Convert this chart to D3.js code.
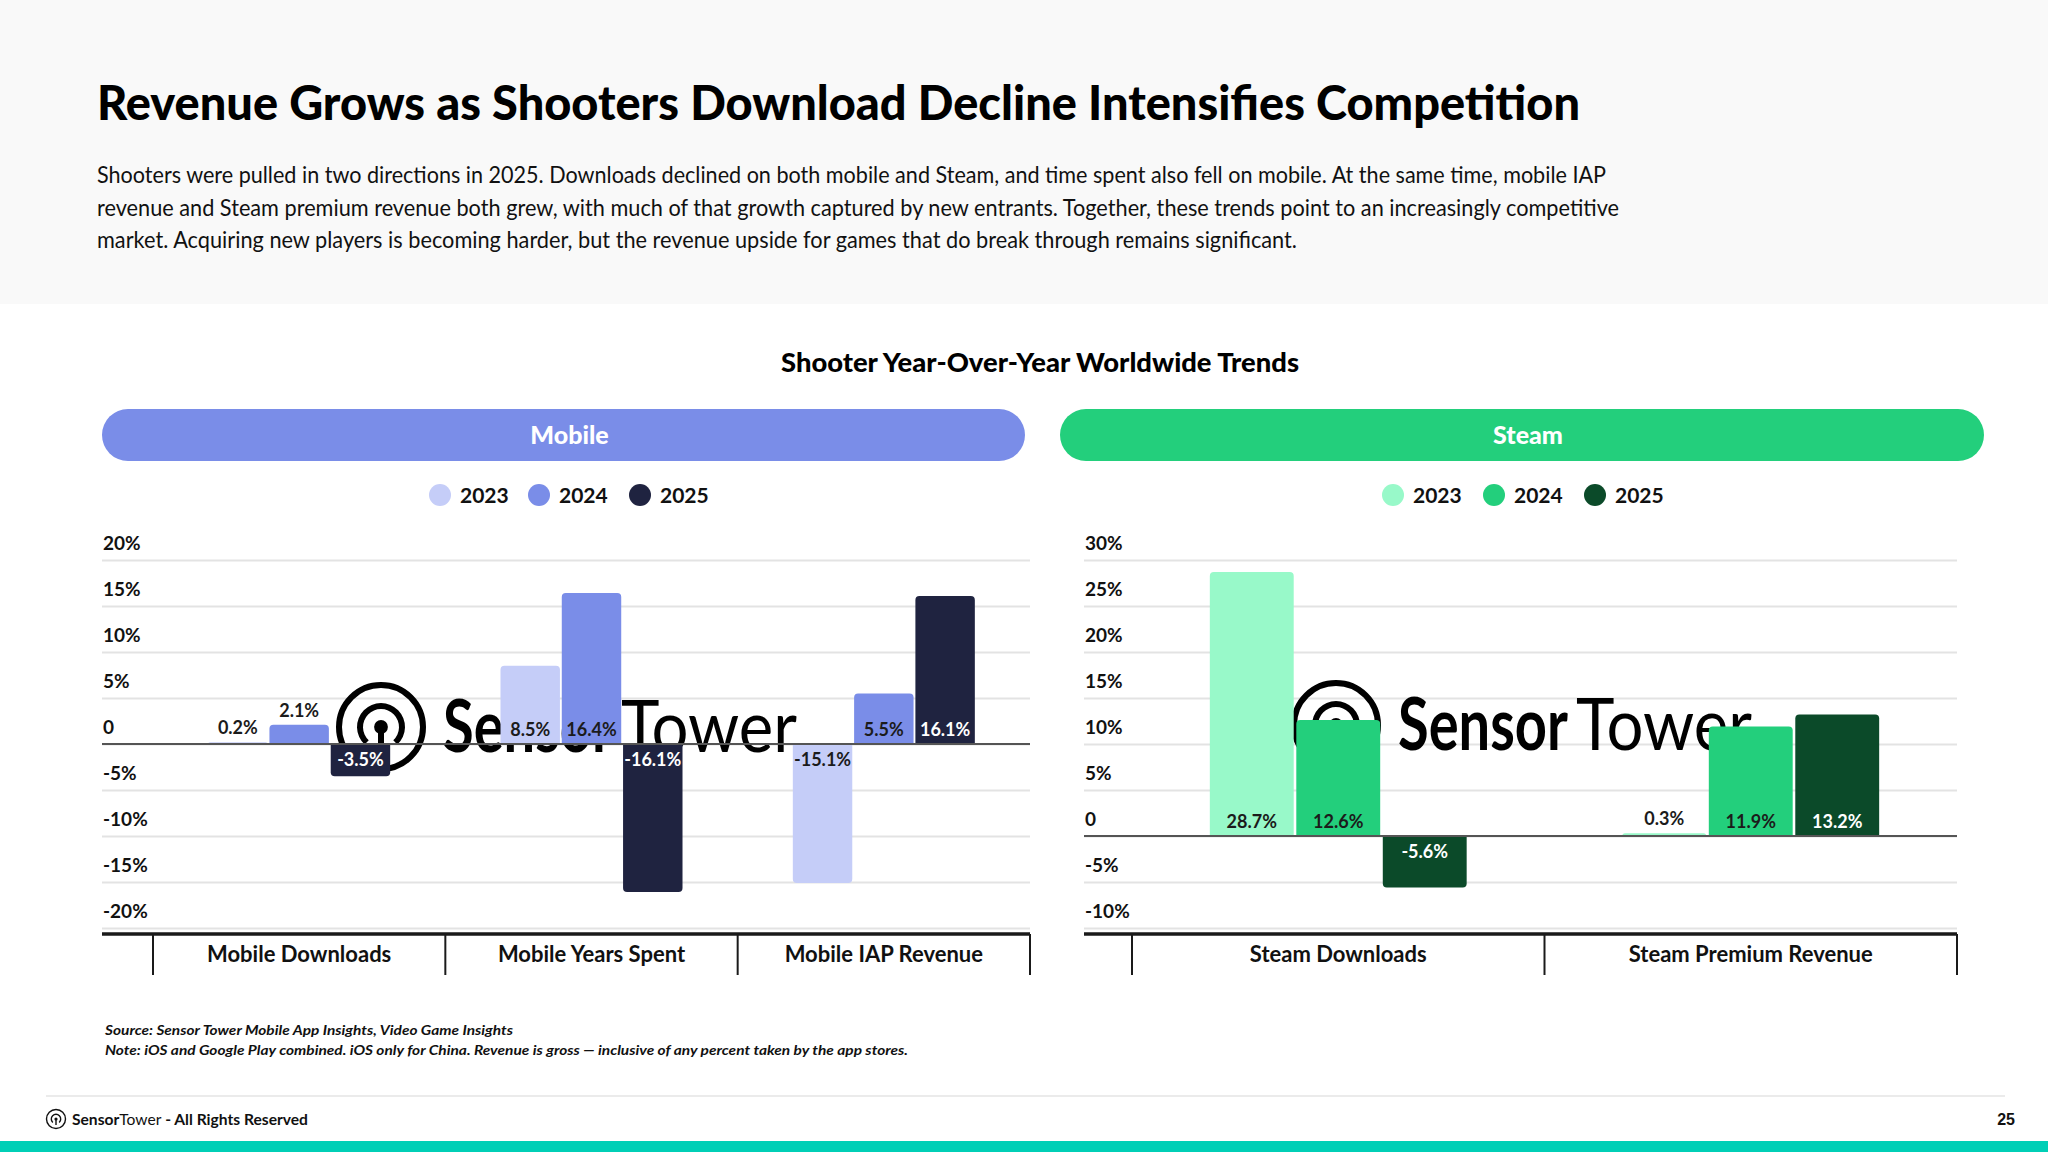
<!DOCTYPE html>
<html>
<head>
<meta charset="utf-8">
<script src="https://cdn.jsdelivr.net/npm/d3@7"></script>
<style>
  html, body { margin: 0; padding: 0; background: #fff; }
  svg { display: block; font-family: Lato, "Noto Sans", sans-serif; }
</style>
</head>
<body>
<svg id="page" width="2048" height="1152"></svg>
<script>
// ---- data ----
const years = ["2023", "2024", "2025"];

const mobileCategories = ["Mobile Downloads", "Mobile Years Spent", "Mobile IAP Revenue"];
const mobile2023 = [0.2, 8.5, -15.1];
const mobile2024 = [2.1, 16.4, 5.5];
const mobile2025 = [-3.5, -16.1, 16.1];
const mobileTicks = [20, 15, 10, 5, 0, -5, -10, -15, -20];

const steamCategories = ["Steam Downloads", "Steam Premium Revenue"];
const steam2023 = [28.7, 0.3];
const steam2024 = [12.6, 11.9];
const steam2025 = [-5.6, 13.2];
const steamTicks = [30, 25, 20, 15, 10, 5, 0, -5, -10];

const titleText = "Revenue Grows as Shooters Download Decline Intensifies Competition";
const introLines = [
  "Shooters were pulled in two directions in 2025. Downloads declined on both mobile and Steam, and time spent also fell on mobile. At the same time, mobile IAP",
  "revenue and Steam premium revenue both grew, with much of that growth captured by new entrants. Together, these trends point to an increasingly competitive",
  "market. Acquiring new players is becoming harder, but the revenue upside for games that do break through remains significant."
];
const noteLines = [
  "Source: Sensor Tower Mobile App Insights, Video Game Insights",
  "Note: iOS and Google Play combined. iOS only for China. Revenue is gross \u2014 inclusive of any percent taken by the app stores."
];

const mobileColors = ["#c5cdf8", "#7a8de8", "#1f2340"];
const steamColors = ["#98f9c9", "#23cf7c", "#0b4a29"];
const labelInk = ["#1b1b1b", "#1b1b1b", "#ffffff"];

const svg = d3.select("#page");

function fit(sel, w) {
  const len = sel.node().getComputedTextLength();
  if (Math.abs(len - w) > 2) {
    sel.attr("textLength", w).attr("lengthAdjust", "spacingAndGlyphs");
  }
  return sel;
}

// ---- header ----
svg.append("rect").attr("x", 0).attr("y", 0).attr("width", 2048).attr("height", 304).attr("fill", "#f9f9f9");

fit(svg.append("text")
  .attr("x", 97).attr("y", 120)
  .style("font-size", "48px").style("font-weight", 900).style("fill", "#000")
  .text(titleText), 1483);

const introW = [1509, 1522, 1200];
introLines.forEach((line, i) => {
  fit(svg.append("text")
    .attr("x", 97).attr("y", 183 + i * 32.5)
    .style("font-size", "23px").style("fill", "#111")
    .text(line), introW[i]);
});

fit(svg.append("text")
  .attr("x", 1040).attr("y", 372)
  .attr("text-anchor", "middle")
  .style("font-size", "26px").style("font-weight", 900).style("fill", "#000")
  .text("Shooter Year-Over-Year Worldwide Trends"), 518);

// ---- sensor tower mark ----
function logo(g, r, sw) {
  g.append("circle").attr("r", r).attr("fill", "none").attr("stroke", "#000").attr("stroke-width", sw);
  g.append("path")
    .attr("d", d3.arc()
      .innerRadius(r * 0.5 - sw / 2).outerRadius(r * 0.5 + sw / 2)
      .startAngle(-Math.PI + 0.75).endAngle(Math.PI - 0.75)())
    .attr("fill", "#000");
  g.append("circle").attr("r", sw * 1.15).attr("fill", "#000");
  g.append("rect").attr("x", -sw / 2).attr("y", 0).attr("width", sw).attr("height", r * 0.62).attr("fill", "#000");
}

// ---- one panel ----
function drawPanel(cfg) {
  const g = svg.append("g");

  // pill header
  g.append("rect")
    .attr("x", cfg.pill[0]).attr("y", 409)
    .attr("width", cfg.pill[1] - cfg.pill[0]).attr("height", 52)
    .attr("rx", 26).attr("fill", cfg.pillColor);
  g.append("text")
    .attr("x", (cfg.pill[0] + cfg.pill[1]) / 2 + 6).attr("y", 444)
    .attr("text-anchor", "middle")
    .style("font-size", "25px").style("font-weight", 900).style("fill", "#fff")
    .text(cfg.name);

  // legend
  years.forEach((yr, j) => {
    const lx = cfg.legendX[j];
    g.append("circle").attr("cx", lx).attr("cy", 495).attr("r", 11).attr("fill", cfg.colors[j]);
    g.append("text").attr("x", lx + 20).attr("y", 503)
      .style("font-size", "21px").style("font-weight", 700).style("fill", "#111")
      .text(yr);
  });

  const y = d3.scaleLinear()
    .domain(d3.extent(cfg.ticks))
    .range([928, 560]);

  const x0 = d3.scaleBand()
    .domain(cfg.categories)
    .range(cfg.bandRange)
    .padding(0);

  const x1 = d3.scaleBand()
    .domain(years)
    .range([0, x0.bandwidth()])
    .paddingInner(0.03)
    .paddingOuter(0.9);

  // gridlines + tick labels
  const yAxis = d3.axisLeft(y).tickValues(cfg.ticks)
    .tickSize(-(cfg.plotRange[1] - cfg.plotRange[0]))
    .tickFormat(d => d === 0 ? "0" : d + "%");
  const ax = g.append("g")
    .attr("transform", `translate(${cfg.plotRange[0]},0)`)
    .call(yAxis);
  ax.select(".domain").remove();
  ax.selectAll(".tick line").attr("stroke", "#e3e3e3").attr("stroke-width", 2);
  ax.selectAll(".tick text")
    .attr("x", 1).attr("dy", "-0.55em")
    .attr("text-anchor", "start")
    .style("font-family", "Lato, sans-serif")
    .style("font-size", "19px").style("font-weight", 700).style("fill", "#111");

  // watermark (behind bars)
  const wm = g.append("g");
  logo(wm.append("g").attr("transform", `translate(${cfg.mark[0]},${cfg.mark[1]})`), 42, 6);
  wm.append("text").attr("x", cfg.mark[0] + 62).attr("y", cfg.mark[1] + 25)
    .style("font-size", "72px").style("font-weight", 700).style("fill", "#000").text("Sensor")
    .call(s => fit(s, 170));
  wm.append("text").attr("x", cfg.mark[0] + 240).attr("y", cfg.mark[1] + 25)
    .style("font-size", "72px").style("font-weight", 400).style("fill", "#000").text("Tower")
    .call(s => fit(s, 176));

  // bars
  const rows = [];
  cfg.categories.forEach((c, i) => {
    years.forEach((yr, j) => rows.push({ cat: c, year: yr, j: j, v: cfg.series[j][i] }));
  });

  const zero = y(0);
  function barPath(d) {
    const x = x0(d.cat) + x1(d.year), w = x1.bandwidth();
    const yv = y(d.v), h = Math.abs(yv - zero);
    const r = Math.min(4, h);
    if (d.v >= 0) {
      return `M${x},${zero}V${yv + r}Q${x},${yv} ${x + r},${yv}H${x + w - r}Q${x + w},${yv} ${x + w},${yv + r}V${zero}Z`;
    }
    return `M${x},${zero}V${yv - r}Q${x},${yv} ${x + r},${yv}H${x + w - r}Q${x + w},${yv} ${x + w},${yv - r}V${zero}Z`;
  }

  g.append("g").selectAll("path")
    .data(rows).enter().append("path")
    .attr("d", barPath)
    .attr("fill", d => cfg.colors[d.j]);

  // zero line
  g.append("line")
    .attr("x1", cfg.plotRange[0]).attr("x2", cfg.plotRange[1])
    .attr("y1", zero).attr("y2", zero)
    .attr("stroke", "#555").attr("stroke-width", 2);

  // value labels: inside near the base, above the bar when it is too short
  g.append("g").selectAll("text")
    .data(rows).enter().append("text")
    .attr("x", d => x0(d.cat) + x1(d.year) + x1.bandwidth() / 2)
    .attr("y", d => {
      const h = Math.abs(y(d.v) - zero);
      if (h < 28) return y(d.v) - 8;
      return d.v >= 0 ? zero - 8 : zero + 22;
    })
    .attr("text-anchor", "middle")
    .style("font-size", "18px").style("font-weight", 700)
    .style("fill", d => Math.abs(y(d.v) - zero) < 28 ? "#1b1b1b" : labelInk[d.j])
    .text(d => d.v.toFixed(1) + "%");

  // bottom axis with category separators
  g.append("line")
    .attr("x1", cfg.plotRange[0]).attr("x2", cfg.plotRange[1])
    .attr("y1", 934).attr("y2", 934)
    .attr("stroke", "#1a1a1a").attr("stroke-width", 3.5);

  const edges = cfg.categories.map(c => x0(c)).concat([x0.range()[1]]);
  g.append("g").selectAll("line")
    .data(edges).enter().append("line")
    .attr("x1", d => d).attr("x2", d => d)
    .attr("y1", 934).attr("y2", 975)
    .attr("stroke", "#1a1a1a").attr("stroke-width", 2);

  g.append("g").selectAll("text")
    .data(cfg.categories).enter().append("text")
    .attr("x", d => x0(d) + x0.bandwidth() / 2)
    .attr("y", 962)
    .attr("text-anchor", "middle")
    .style("font-size", "22px").style("font-weight", 700).style("fill", "#111")
    .text(d => d);
}

drawPanel({
  name: "Mobile",
  pill: [102, 1025],
  pillColor: "#7a8de8",
  legendX: [440, 539, 640],
  categories: mobileCategories,
  series: [mobile2023, mobile2024, mobile2025],
  colors: mobileColors,
  ticks: mobileTicks,
  plotRange: [102, 1030],
  bandRange: [153, 1030],
  mark: [381, 727]
});

drawPanel({
  name: "Steam",
  pill: [1060, 1984],
  pillColor: "#23cf7c",
  legendX: [1393, 1494, 1595],
  categories: steamCategories,
  series: [steam2023, steam2024, steam2025],
  colors: steamColors,
  ticks: steamTicks,
  plotRange: [1084, 1957],
  bandRange: [1132, 1957],
  mark: [1336, 725]
});

// ---- footnotes ----
const noteW = [408, 803];
noteLines.forEach((line, i) => {
  fit(svg.append("text")
    .attr("x", 105).attr("y", 1035 + i * 20)
    .style("font-size", "14px").style("font-weight", 700).style("font-style", "italic").style("fill", "#111")
    .text(line), noteW[i]);
});

// ---- page footer ----
svg.append("line").attr("x1", 46).attr("x2", 2005).attr("y1", 1096).attr("y2", 1096)
  .attr("stroke", "#e4e4e4").attr("stroke-width", 1.5);

const fl = svg.append("g").attr("transform", "translate(56,1119)");
fl.append("circle").attr("r", 9.5).attr("fill", "none").attr("stroke", "#111").attr("stroke-width", 1.4);
fl.append("path")
  .attr("d", d3.arc().innerRadius(4).outerRadius(5.4).startAngle(-Math.PI + 0.75).endAngle(Math.PI - 0.75)())
  .attr("fill", "#111");
fl.append("circle").attr("r", 1.6).attr("fill", "#111");
fl.append("rect").attr("x", -0.7).attr("y", 0).attr("width", 1.4).attr("height", 6).attr("fill", "#111");

const ft = svg.append("text").attr("x", 72).attr("y", 1125)
  .style("font-size", "16px").style("fill", "#111");
ft.append("tspan").style("font-weight", 700).text("Sensor");
ft.append("tspan").style("font-weight", 400).text("Tower");
ft.append("tspan").style("font-weight", 700).text(" - All Rights Reserved");
fit(ft, 236);

svg.append("text").attr("x", 2015).attr("y", 1125)
  .attr("text-anchor", "end")
  .style("font-family", "'Liberation Sans', Arial, sans-serif")
  .style("font-size", "16px").style("font-weight", 700).style("fill", "#111")
  .text("25");

svg.append("rect").attr("x", 0).attr("y", 1141).attr("width", 2048).attr("height", 11).attr("fill", "#00cfb6");
</script>
</body>
</html>
